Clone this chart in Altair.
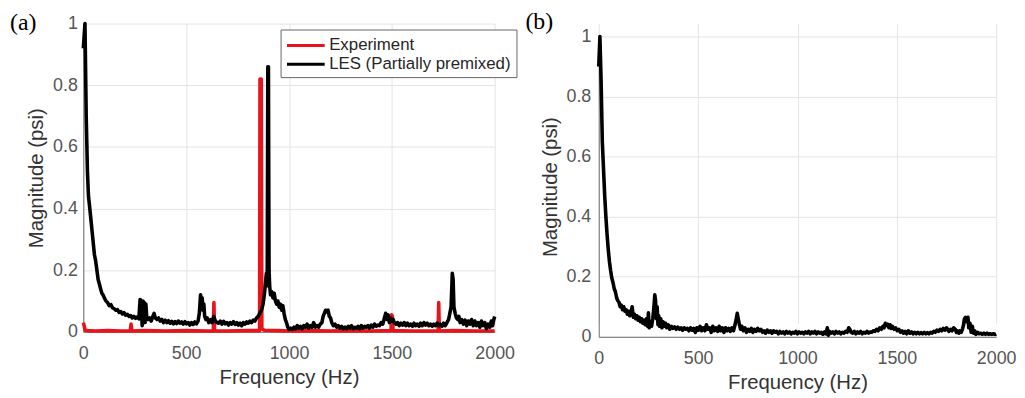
import altair as alt
import pandas as pd

# ---------------- data ----------------
SERIES = ["Experiment", "LES (Partially premixed)"]
COLORS = ["#e8141c", "#000000"]

X_TICKS = [0, 500, 1000, 1500, 2000]
Y_TICKS = [0, 0.2, 0.4, 0.6, 0.8, 1.0]

# panel (a) experiment: (frequency Hz, magnitude psi)
EXP_A = [
    (0, 0.03), (4, 0.02), (8, 0.005), (20, 0.004), (60, 0.003), (120, 0.004),
    (180, 0.003), (228, 0.003), (232, 0.025), (236, 0.003), (300, 0.004),
    (400, 0.003), (500, 0.004), (600, 0.003), (632, 0.003), (635, 0.095),
    (638, 0.003), (700, 0.003), (800, 0.004), (857, 0.004), (859, 0.82),
    (865, 0.82), (868, 0.01), (880, 0.005), (950, 0.004), (1000, 0.003),
    (1100, 0.004), (1200, 0.003), (1300, 0.004), (1400, 0.003), (1496, 0.004),
    (1499, 0.055), (1503, 0.05), (1506, 0.004), (1600, 0.003), (1700, 0.003),
    (1725, 0.003), (1728, 0.095), (1731, 0.003), (1800, 0.004), (1900, 0.003),
    (2000, 0.003),
]

# panel (a) LES
LES_A = [
    (0, 0.92), (8, 1.0), (14, 0.70), (20, 0.52), (25, 0.44), (30, 0.41), (36, 0.37),
    (42, 0.33), (48, 0.29), (54, 0.25), (60, 0.23), (66, 0.20), (72, 0.17), (78, 0.155),
    (84, 0.14), (90, 0.125), (96, 0.12), (102, 0.11), (110, 0.10), (118, 0.095),
    (126, 0.085), (134, 0.088), (142, 0.078), (150, 0.075), (158, 0.07), (166, 0.072),
    (174, 0.063), (182, 0.066), (190, 0.058), (198, 0.062), (206, 0.054), (214, 0.057),
    (222, 0.05), (230, 0.053), (238, 0.045), (246, 0.05), (254, 0.044), (262, 0.048),
    (270, 0.042), (276, 0.105), (282, 0.10), (286, 0.02), (290, 0.10), (296, 0.095),
    (300, 0.03), (304, 0.09), (308, 0.05), (314, 0.04), (322, 0.045), (330, 0.035),
    (338, 0.05), (344, 0.06), (350, 0.045), (358, 0.04), (366, 0.045), (374, 0.035),
    (382, 0.04), (390, 0.03), (398, 0.038), (406, 0.03), (414, 0.036), (422, 0.028),
    (430, 0.034), (438, 0.026), (446, 0.033), (454, 0.027), (462, 0.035), (470, 0.028),
    (478, 0.032), (486, 0.025), (494, 0.033), (502, 0.026), (510, 0.03), (518, 0.022),
    (526, 0.03), (534, 0.024), (542, 0.032), (550, 0.026), (558, 0.035), (564, 0.06),
    (570, 0.12), (574, 0.10), (578, 0.11), (582, 0.07), (586, 0.09), (590, 0.05),
    (596, 0.04), (602, 0.045), (610, 0.03), (618, 0.04), (626, 0.03), (634, 0.05),
    (642, 0.035), (650, 0.03), (658, 0.028), (666, 0.035), (674, 0.025), (682, 0.034),
    (690, 0.026), (698, 0.03), (706, 0.022), (714, 0.03), (722, 0.025), (730, 0.033),
    (738, 0.024), (746, 0.03), (754, 0.022), (762, 0.028), (770, 0.02), (778, 0.03),
    (786, 0.025), (794, 0.032), (802, 0.028), (810, 0.035), (818, 0.03), (826, 0.038),
    (834, 0.035), (842, 0.045), (850, 0.05), (858, 0.06), (866, 0.07), (874, 0.09),
    (880, 0.12), (886, 0.16), (890, 0.19), (894, 0.15), (897, 0.86), (900, 0.86),
    (903, 0.2), (906, 0.15), (910, 0.12), (916, 0.13), (922, 0.11), (928, 0.125),
    (934, 0.1), (940, 0.09), (946, 0.1), (952, 0.08), (958, 0.09), (964, 0.07),
    (970, 0.085), (976, 0.06), (982, 0.04), (988, 0.03), (994, 0.015), (1000, 0.008),
    (1008, 0.012), (1016, 0.008), (1024, 0.015), (1032, 0.01), (1040, 0.02), (1048, 0.012),
    (1056, 0.018), (1064, 0.01), (1072, 0.02), (1080, 0.015), (1088, 0.025), (1096, 0.012),
    (1104, 0.02), (1112, 0.015), (1120, 0.03), (1128, 0.015), (1136, 0.02), (1144, 0.015),
    (1152, 0.025), (1160, 0.03), (1166, 0.05), (1172, 0.06), (1178, 0.07), (1184, 0.065),
    (1190, 0.07), (1196, 0.05), (1202, 0.045), (1208, 0.03), (1216, 0.02), (1224, 0.025),
    (1232, 0.015), (1240, 0.02), (1248, 0.012), (1256, 0.018), (1264, 0.01), (1272, 0.015),
    (1280, 0.01), (1288, 0.018), (1296, 0.012), (1304, 0.02), (1312, 0.01), (1320, 0.015),
    (1328, 0.012), (1336, 0.018), (1344, 0.01), (1352, 0.02), (1360, 0.012), (1368, 0.018),
    (1376, 0.015), (1384, 0.02), (1392, 0.012), (1400, 0.022), (1408, 0.015), (1416, 0.025),
    (1424, 0.018), (1432, 0.022), (1440, 0.02), (1448, 0.03), (1456, 0.025), (1464, 0.045),
    (1470, 0.06), (1476, 0.04), (1482, 0.055), (1488, 0.03), (1494, 0.045), (1500, 0.035),
    (1506, 0.04), (1512, 0.03), (1520, 0.025), (1528, 0.03), (1536, 0.02), (1544, 0.028),
    (1552, 0.022), (1560, 0.03), (1568, 0.02), (1576, 0.028), (1584, 0.02), (1592, 0.025),
    (1600, 0.018), (1608, 0.028), (1616, 0.02), (1624, 0.025), (1632, 0.018), (1640, 0.028),
    (1648, 0.02), (1656, 0.03), (1664, 0.022), (1672, 0.028), (1680, 0.02), (1688, 0.025),
    (1696, 0.018), (1704, 0.025), (1712, 0.02), (1720, 0.028), (1728, 0.02), (1736, 0.025),
    (1744, 0.018), (1752, 0.028), (1760, 0.02), (1768, 0.03), (1776, 0.04), (1782, 0.06),
    (1788, 0.08), (1794, 0.19), (1798, 0.17), (1802, 0.08), (1808, 0.06), (1814, 0.045),
    (1820, 0.04), (1826, 0.05), (1832, 0.03), (1840, 0.04), (1848, 0.025), (1856, 0.038),
    (1864, 0.02), (1872, 0.035), (1880, 0.025), (1888, 0.04), (1896, 0.02), (1904, 0.035),
    (1912, 0.02), (1920, 0.03), (1928, 0.015), (1936, 0.035), (1944, 0.02), (1952, 0.03),
    (1960, 0.01), (1968, 0.025), (1976, 0.015), (1984, 0.035), (1990, 0.02), (1996, 0.04),
    (2000, 0.05),
]

# panel (b) LES
LES_B = [
    (0, 0.9), (6, 1.0), (12, 0.85), (18, 0.65), (24, 0.56), (30, 0.47), (36, 0.40),
    (42, 0.34), (48, 0.29), (54, 0.25), (60, 0.22), (66, 0.195), (72, 0.18), (78, 0.16),
    (84, 0.15), (90, 0.13), (96, 0.12), (102, 0.115), (108, 0.1), (114, 0.105), (120, 0.09),
    (126, 0.1), (132, 0.085), (138, 0.09), (144, 0.075), (150, 0.085), (156, 0.07),
    (162, 0.08), (168, 0.1), (174, 0.065), (180, 0.075), (186, 0.06), (192, 0.07),
    (198, 0.055), (204, 0.065), (210, 0.05), (216, 0.06), (222, 0.045), (228, 0.055),
    (234, 0.04), (240, 0.06), (246, 0.035), (250, 0.08), (254, 0.03), (260, 0.05),
    (266, 0.035), (272, 0.06), (278, 0.1), (282, 0.14), (286, 0.12), (290, 0.06),
    (294, 0.1), (298, 0.04), (302, 0.07), (306, 0.035), (312, 0.06), (318, 0.03),
    (324, 0.05), (330, 0.035), (336, 0.045), (342, 0.03), (350, 0.04), (358, 0.025),
    (366, 0.035), (374, 0.028), (382, 0.033), (390, 0.025), (398, 0.032), (406, 0.025),
    (414, 0.03), (422, 0.022), (430, 0.03), (438, 0.025), (446, 0.028), (454, 0.02),
    (462, 0.03), (470, 0.022), (478, 0.028), (486, 0.015), (494, 0.03), (502, 0.022),
    (510, 0.035), (518, 0.02), (526, 0.03), (534, 0.02), (542, 0.04), (550, 0.025),
    (558, 0.03), (566, 0.015), (574, 0.035), (582, 0.02), (590, 0.03), (598, 0.018),
    (606, 0.035), (614, 0.02), (622, 0.03), (630, 0.015), (638, 0.03), (646, 0.02),
    (654, 0.028), (662, 0.018), (670, 0.03), (678, 0.02), (686, 0.04), (692, 0.06),
    (697, 0.078), (702, 0.06), (708, 0.04), (714, 0.025), (720, 0.035), (728, 0.02),
    (736, 0.03), (744, 0.015), (752, 0.025), (760, 0.018), (768, 0.028), (776, 0.015),
    (784, 0.025), (792, 0.018), (800, 0.028), (808, 0.02), (816, 0.025), (824, 0.015),
    (832, 0.02), (840, 0.012), (848, 0.022), (856, 0.015), (864, 0.02), (872, 0.012),
    (880, 0.02), (888, 0.015), (896, 0.018), (904, 0.01), (912, 0.018), (920, 0.012),
    (928, 0.016), (936, 0.01), (944, 0.018), (952, 0.012), (960, 0.016), (968, 0.01),
    (976, 0.015), (984, 0.012), (992, 0.018), (1000, 0.01), (1008, 0.016), (1016, 0.012),
    (1024, 0.015), (1032, 0.01), (1040, 0.016), (1048, 0.012), (1056, 0.018), (1064, 0.01),
    (1072, 0.016), (1080, 0.012), (1088, 0.018), (1096, 0.01), (1104, 0.016), (1112, 0.012),
    (1120, 0.015), (1128, 0.008), (1136, 0.016), (1144, 0.01), (1150, 0.03), (1156, 0.005),
    (1162, 0.018), (1170, 0.012), (1178, 0.016), (1186, 0.01), (1194, 0.018), (1202, 0.012),
    (1210, 0.016), (1218, 0.01), (1226, 0.015), (1234, 0.012), (1242, 0.018), (1250, 0.015),
    (1258, 0.03), (1264, 0.025), (1270, 0.015), (1278, 0.012), (1286, 0.018), (1294, 0.01),
    (1302, 0.016), (1310, 0.012), (1318, 0.018), (1326, 0.01), (1334, 0.015), (1342, 0.012),
    (1350, 0.018), (1358, 0.012), (1366, 0.016), (1374, 0.015), (1382, 0.02), (1390, 0.018),
    (1398, 0.025), (1406, 0.02), (1414, 0.03), (1422, 0.025), (1430, 0.035), (1436, 0.03),
    (1442, 0.045), (1448, 0.038), (1454, 0.042), (1460, 0.03), (1466, 0.04), (1472, 0.028),
    (1478, 0.035), (1486, 0.025), (1494, 0.03), (1502, 0.02), (1510, 0.025), (1518, 0.015),
    (1526, 0.02), (1534, 0.012), (1542, 0.018), (1550, 0.01), (1558, 0.02), (1566, 0.012),
    (1574, 0.016), (1582, 0.01), (1590, 0.015), (1598, 0.01), (1606, 0.015), (1614, 0.01),
    (1622, 0.014), (1630, 0.01), (1638, 0.015), (1646, 0.01), (1654, 0.014), (1662, 0.01),
    (1670, 0.015), (1678, 0.012), (1686, 0.018), (1694, 0.015), (1702, 0.022), (1710, 0.018),
    (1718, 0.025), (1726, 0.02), (1734, 0.028), (1742, 0.022), (1750, 0.03), (1756, 0.025),
    (1762, 0.018), (1770, 0.025), (1778, 0.02), (1786, 0.03), (1794, 0.025), (1800, 0.015),
    (1806, 0.02), (1812, 0.012), (1818, 0.02), (1824, 0.015), (1830, 0.025), (1836, 0.04),
    (1840, 0.06), (1846, 0.065), (1852, 0.05), (1858, 0.065), (1862, 0.03), (1868, 0.045),
    (1874, 0.015), (1880, 0.035), (1886, 0.012), (1892, 0.02), (1898, 0.008), (1906, 0.015),
    (1914, 0.01), (1922, 0.012), (1930, 0.008), (1938, 0.012), (1946, 0.008), (1954, 0.012),
    (1962, 0.008), (1970, 0.01), (1978, 0.008), (1986, 0.01), (1994, 0.008), (2000, 0.01),
]

# ---------------- tables ----------------
rows_a = []
for i, (f, m) in enumerate(EXP_A):
    rows_a.append({"f": f, "m": m, "series": SERIES[0], "order": i})
for i, (f, m) in enumerate(LES_A):
    rows_a.append({"f": f, "m": m, "series": SERIES[1], "order": i})
df_a = pd.DataFrame(rows_a)
df_b = pd.DataFrame([{"f": f, "m": m, "order": i} for i, (f, m) in enumerate(LES_B)])

SANS = "Liberation Sans"
SERIF = "Liberation Serif"

H_A = 311          # plot height of panel (a)
H_B = 303          # plot height of panel (b)
DROP_B = 13        # panel (b) starts lower than panel (a)


def x_enc():
    return alt.X("f:Q", scale=alt.Scale(domain=[0, 2000], nice=False),
                 axis=alt.Axis(values=X_TICKS, format="d", title="Frequency (Hz)",
                               labelPadding=13, titlePadding=5, labelFlush=False))


def y_enc(pad, rng=None):
    sc = alt.Scale(domain=[0, 1], nice=False) if rng is None else \
        alt.Scale(domain=[0, 1], nice=False, range=rng)
    return alt.Y("m:Q", scale=sc,
                 axis=alt.Axis(values=Y_TICKS, format=".1~f", title="Magnitude (psi)",
                               labelPadding=pad, titlePadding=6))


def panel_title(txt, off):
    return alt.TitleParams(text=txt, anchor="start", frame="group", offset=off, dx=-74,
                           baseline="top", font=SERIF, fontSize=24, fontWeight="normal",
                           color="#000000")


panel_a = alt.Chart(df_a).mark_line(strokeWidth=3.6, strokeJoin="round").encode(
    x=x_enc(),
    y=y_enc(6),
    order="order:Q",
    color=alt.Color("series:N", scale=alt.Scale(domain=SERIES, range=COLORS),
                    legend=alt.Legend(title=None, orient="none", legendX=199, legendY=6,
                                      symbolType="M-1,0H3", symbolSize=361,
                                      symbolStrokeWidth=3, labelOffset=22, labelLimit=400,
                                      labelFont=SANS, labelFontSize=17,
                                      labelColor="#262626", padding=5, rowPadding=0,
                                      strokeColor="#666666", fillColor="#ffffff")),
).properties(width=415, height=H_A, title=panel_title("(a)", -20))

panel_b = alt.Chart(df_b).mark_line(strokeWidth=3.6, strokeJoin="round", color="#000000").encode(
    x=x_enc(),
    y=y_enc(8, [H_B + DROP_B, DROP_B]),
    order="order:Q",
).properties(width=401, height=H_B + DROP_B, title=panel_title("(b)", -10))

chart = alt.hconcat(panel_a, panel_b, spacing=10).configure_view(stroke=None).configure_axis(
    grid=True, gridColor="#e4e4e4", gridWidth=1,
    domainColor="#6e6e6e", domainWidth=1, ticks=False,
    labelFont=SANS, labelFontSize=18, labelColor="#555555",
    titleFont=SANS, titleFontSize=20.5, titleFontWeight="normal", titleColor="#333333",
).properties(padding={"left": 2, "top": 0, "right": 0, "bottom": 0})

chart.save("out.html", embed_options={"renderer": "svg", "actions": False})
